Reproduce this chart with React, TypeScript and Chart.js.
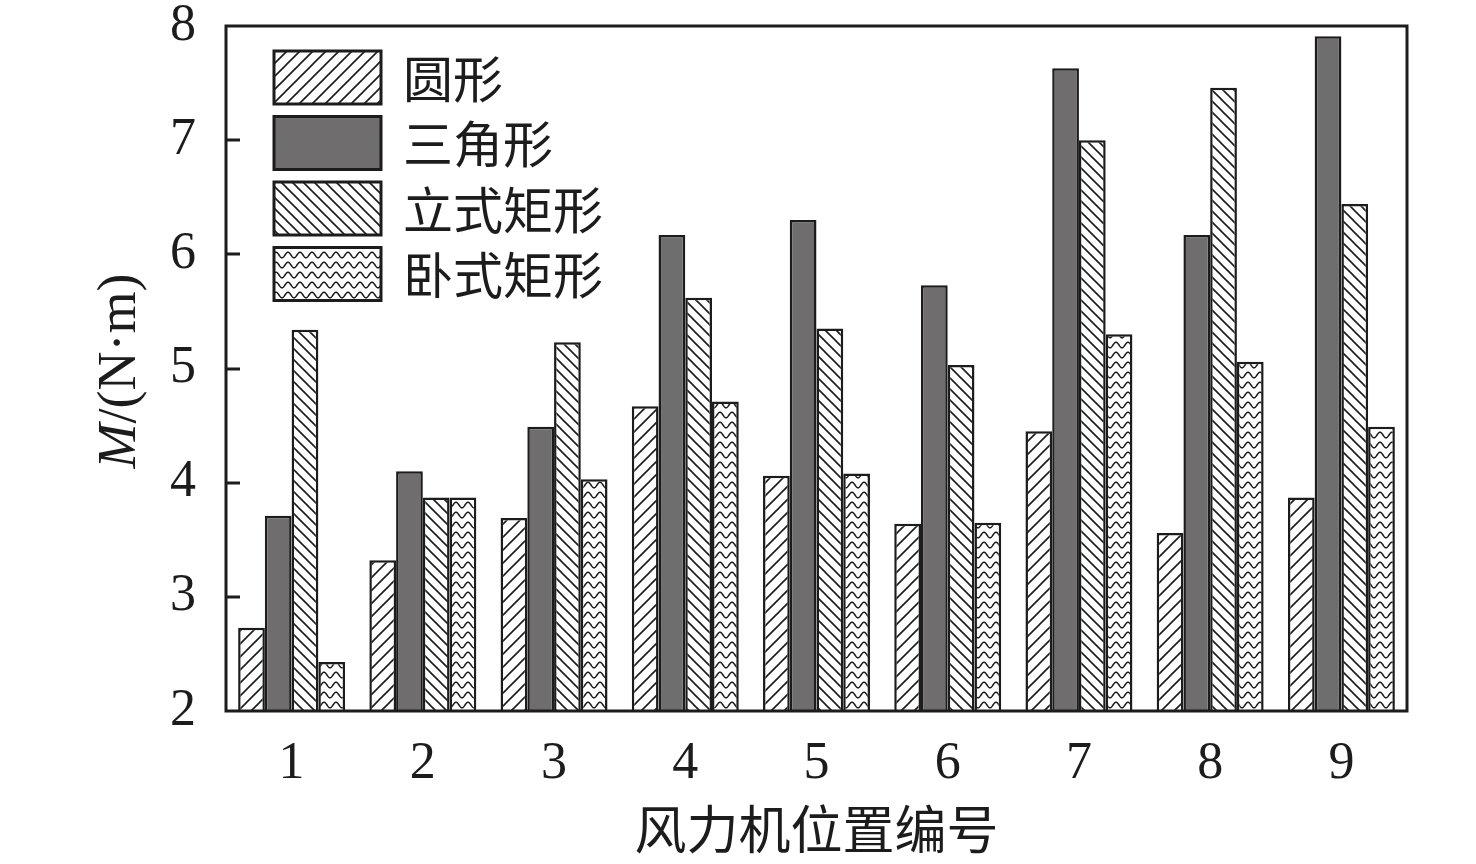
import { Chart, registerables } from 'chart.js';
import { useEffect, useRef } from 'react';

Chart.register(...registerables);

const categories = ['1', '2', '3', '4', '5', '6', '7', '8', '9'];
const seriesNames = ['圆形', '三角形', '立式矩形', '卧式矩形'];
const circular = [2.73, 3.32, 3.69, 4.67, 4.06, 3.64, 4.45, 3.56, 3.87];
const triangular = [3.71, 4.1, 4.49, 6.17, 6.3, 5.73, 7.63, 6.17, 7.91];
const verticalRect = [5.34, 3.87, 5.23, 5.62, 5.35, 5.03, 7.0, 7.46, 6.44];
const lyingRect = [2.43, 3.87, 4.03, 4.71, 4.08, 3.65, 5.3, 5.06, 4.49];
const yMin = 2;
const yMax = 8;
const innerTickValues = [3, 4, 5, 6, 7];

const INK = '#1c1c1c';
const SERIF = '"Liberation Serif", "Times New Roman", serif';
const CJK = '"Noto Sans CJK SC", "Liberation Serif", sans-serif';

// hatch tiles for the bar fills
function makeHatch(ctx: CanvasRenderingContext2D, size: number, forward: boolean) {
  const c = document.createElement('canvas');
  c.width = size;
  c.height = size;
  const g = c.getContext('2d')!;
  g.fillStyle = '#fff';
  g.fillRect(0, 0, size, size);
  g.strokeStyle = INK;
  g.lineWidth = 1.6;
  g.beginPath();
  if (forward) {
    g.moveTo(-1, size + 1);
    g.lineTo(size + 1, -1);
    g.moveTo(-1, 1);
    g.lineTo(1, -1);
    g.moveTo(size - 1, size + 1);
    g.lineTo(size + 1, size - 1);
  } else {
    g.moveTo(-1, -1);
    g.lineTo(size + 1, size + 1);
    g.moveTo(size - 1, -1);
    g.lineTo(size + 1, 1);
    g.moveTo(-1, size - 1);
    g.lineTo(1, size + 1);
  }
  g.stroke();
  return ctx.createPattern(c, 'repeat')!;
}

function makeWave(ctx: CanvasRenderingContext2D) {
  const w = 12;
  const h = 10;
  const c = document.createElement('canvas');
  c.width = w;
  c.height = h;
  const g = c.getContext('2d')!;
  g.fillStyle = '#fff';
  g.fillRect(0, 0, w, h);
  g.strokeStyle = INK;
  g.lineWidth = 1.5;
  g.beginPath();
  for (let x = 0; x <= w; x += 0.5) {
    const y = 5 - 2.8 * Math.cos((2 * Math.PI * x) / w);
    if (x === 0) g.moveTo(x, y);
    else g.lineTo(x, y);
  }
  g.stroke();
  return ctx.createPattern(c, 'repeat')!;
}

const framePlugin = {
  id: 'frame',
  afterDraw(chart: Chart) {
    const { ctx, chartArea: a } = chart;
    const y = chart.scales.y;
    ctx.save();
    ctx.strokeStyle = INK;
    ctx.lineWidth = 3;
    ctx.strokeRect(a.left, a.top, a.right - a.left, a.bottom - a.top);
    ctx.beginPath();
    innerTickValues.forEach((v) => {
      const py = Math.round(y.getPixelForValue(v));
      ctx.moveTo(a.left, py);
      ctx.lineTo(a.left + 14, py);
    });
    ctx.stroke();

    // y title with italic M
    ctx.translate(121, 371);
    ctx.rotate(-Math.PI / 2);
    ctx.fillStyle = INK;
    ctx.textBaseline = 'middle';
    const italic = `italic 54px ${SERIF}`;
    const normal = `54px ${SERIF}`;
    ctx.font = italic;
    const wM = ctx.measureText('M').width;
    ctx.font = normal;
    const rest = '/(N·m)';
    const wR = ctx.measureText(rest).width;
    let x = -(wM + wR) / 2;
    ctx.font = italic;
    ctx.fillText('M', x, 0);
    x += wM;
    ctx.font = normal;
    ctx.fillText(rest, x, 0);
    ctx.restore();
  },
};

const legendPlugin = {
  id: 'boxLegend',
  afterDraw(chart: Chart) {
    const { ctx } = chart;
    ctx.save();
    chart.data.datasets.forEach((ds, i) => {
      const bx = 274;
      const by = 51 + i * 65.5;
      const bw = 107;
      const bh = 53;
      ctx.fillStyle = ds.backgroundColor as CanvasPattern | string;
      ctx.fillRect(bx, by, bw, bh);
      ctx.strokeStyle = INK;
      ctx.lineWidth = 3;
      ctx.strokeRect(bx, by, bw, bh);
      ctx.fillStyle = INK;
      ctx.font = `50px ${CJK}`;
      ctx.textBaseline = 'middle';
      ctx.textAlign = 'left';
      ctx.fillText(ds.label as string, 403, by + bh / 2 + 1);
    });
    ctx.restore();
  },
};

export default function App() {
  const canvasRef = useRef<HTMLCanvasElement>(null);
  const chartRef = useRef<Chart | null>(null);

  useEffect(() => {
    if (!canvasRef.current) return;
    const context = canvasRef.current.getContext('2d');
    if (!context) return;

    const fills = [
      makeHatch(context, 13, true),
      '#6f6d6e',
      makeHatch(context, 11, false),
      makeWave(context),
    ];
    const values = [circular, triangular, verticalRect, lyingRect];

    chartRef.current = new Chart(context, {
      type: 'bar',
      data: {
        labels: categories,
        datasets: values.map((data, i) => ({
          label: seriesNames[i],
          data,
          backgroundColor: fills[i],
          borderColor: INK,
          borderWidth: 2.5,
          categoryPercentage: 0.815,
          barPercentage: 1,
        })),
      },
      options: {
        animation: false,
        responsive: true,
        maintainAspectRatio: false,
        layout: { padding: { left: 0, top: 26, right: 69, bottom: 0 } },
        plugins: {
          legend: { display: false },
          tooltip: { enabled: false },
        },
        scales: {
          x: {
            grid: { display: false, drawTicks: false },
            border: { display: false },
            ticks: {
              color: INK,
              padding: 22,
              font: { family: SERIF, size: 52 },
            },
            title: {
              display: true,
              text: '风力机位置编号',
              color: INK,
              font: { family: CJK, size: 52 },
              padding: { top: 0, bottom: 4 },
            },
            afterFit(scale) {
              scale.height = 153;
              scale.paddingLeft = 0;
              scale.paddingRight = 0;
            },
          },
          y: {
            min: yMin,
            max: yMax,
            grid: { display: false, drawTicks: false },
            border: { display: false },
            ticks: {
              stepSize: 1,
              color: INK,
              padding: 30,
              font: { family: SERIF, size: 52 },
            },
            afterFit(scale) {
              scale.width = 226;
              scale.paddingTop = 0;
              scale.paddingBottom = 0;
            },
          },
        },
      },
      plugins: [framePlugin, legendPlugin],
    });

    return () => {
      chartRef.current?.destroy();
    };
  }, []);

  return (
    <div style={{ position: 'fixed', left: 0, top: 0, width: 1476, height: 864, background: '#fff' }}>
      <canvas ref={canvasRef} />
    </div>
  );
}
